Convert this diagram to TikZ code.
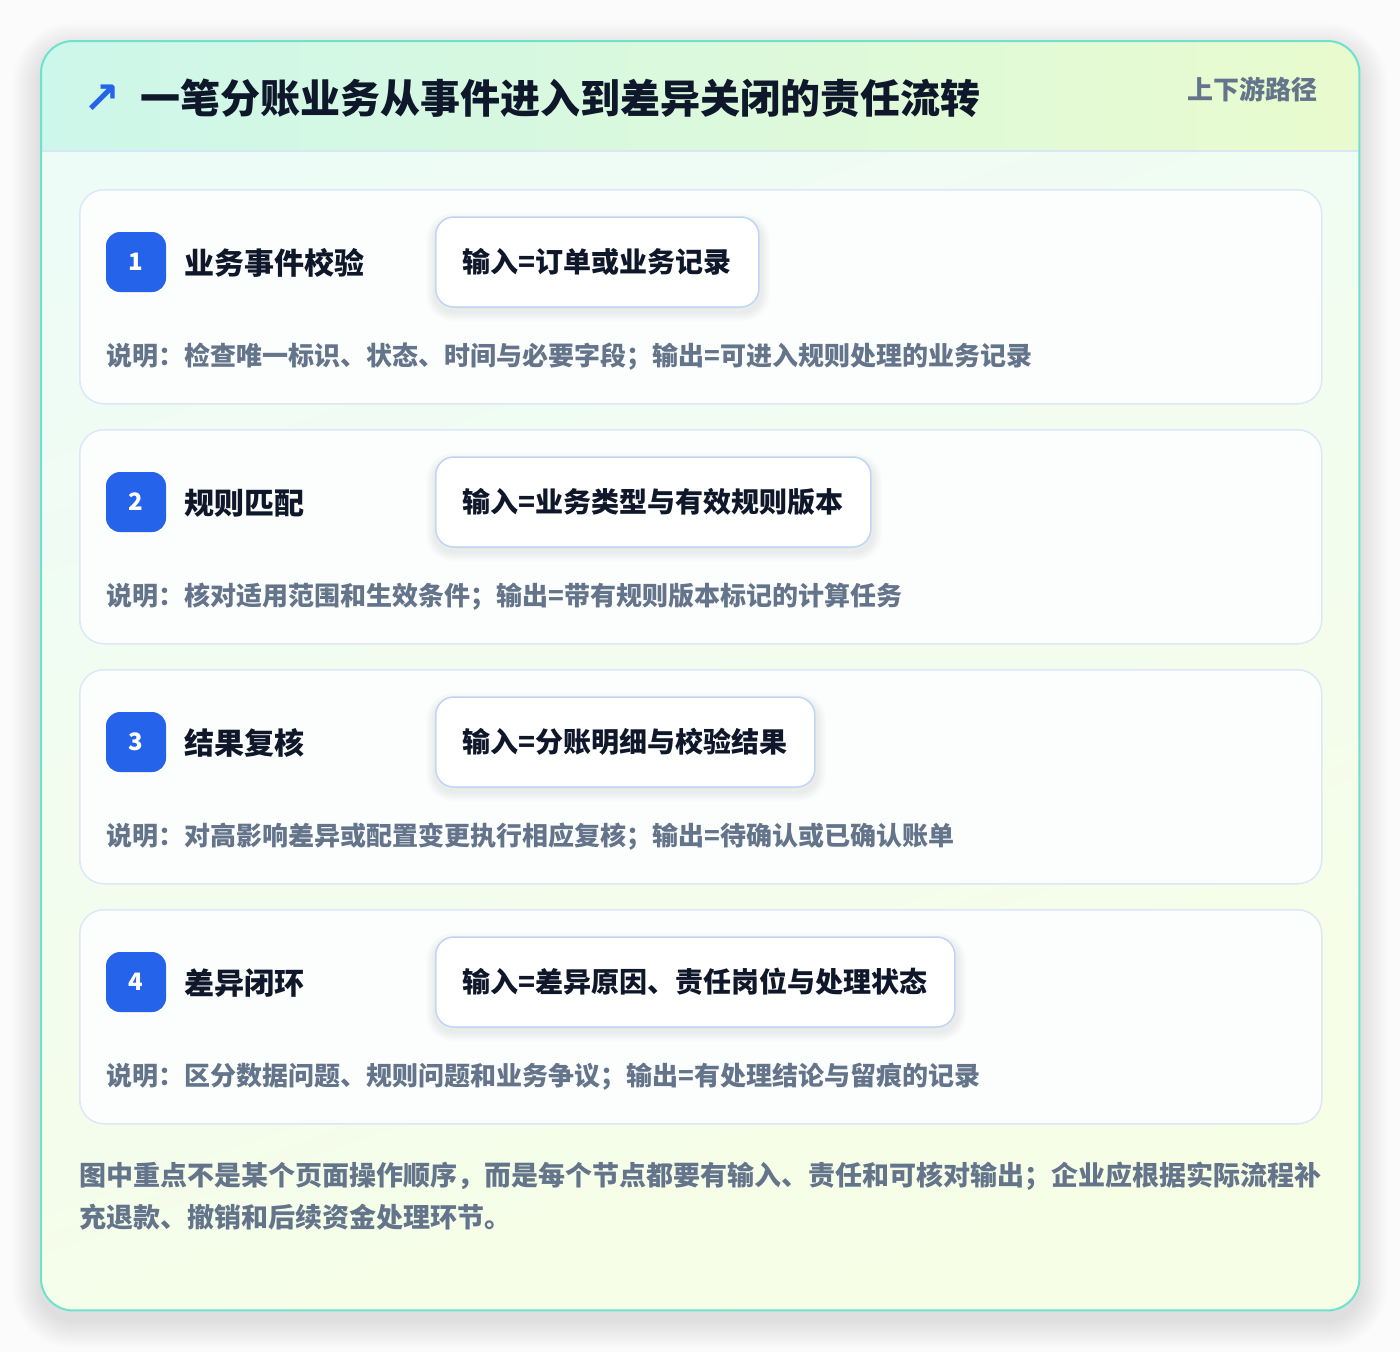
\documentclass[tikz,border=0pt]{standalone}
\usepackage{fontspec}
\setmainfont{Noto Sans CJK SC}
\newfontfamily\symfont{DejaVu Sans}
\definecolor{pagebg}{HTML}{FBFBFB}
\definecolor{cardborder}{HTML}{6EE2CC}
\definecolor{cardtop}{HTML}{EEFCF7}
\definecolor{cardbot}{HTML}{F7FEE6}
\definecolor{headl}{HTML}{CDF7EA}
\definecolor{headr}{HTML}{E9FBCE}
\definecolor{headline}{HTML}{D8E6F6}
\definecolor{stepborder}{HTML}{DCE8F8}
\definecolor{stepfill}{HTML}{FCFEFD}
\definecolor{inborder}{HTML}{BFD5F5}
\definecolor{badgeblue}{HTML}{2563EB}
\definecolor{ink}{HTML}{0F172A}
\definecolor{muted}{HTML}{64748B}
\definecolor{shadowc}{HTML}{1E293B}
\tikzset{
  maincard/.style={rectangle, rounded corners=32pt, minimum width=1318pt, minimum height=1269pt,
    anchor=north west, inner sep=0pt, top color=cardtop, bottom color=cardbot, shading angle=20},
  stepcard/.style={rectangle, rounded corners=24pt, minimum width=1242pt, minimum height=214pt,
    anchor=north west, inner sep=0pt, draw=stepborder, line width=1.5pt, fill=stepfill},
  badgebox/.style={rectangle, rounded corners=14pt, minimum width=60pt, minimum height=60pt,
    inner sep=0pt, fill=badgeblue, text=white, font=\fontsize{24}{28}\selectfont\bfseries},
  steptitle/.style={anchor=west, inner sep=0pt, text=ink, font=\fontsize{30}{36}\selectfont\bfseries},
  inbox/.style={rectangle, rounded corners=18pt, minimum height=90pt, inner xsep=27pt, inner ysep=0pt,
    anchor=west, draw=inborder, line width=1.5pt, fill=white, text=ink,
    font=\fontsize{28}{34}\selectfont\bfseries},
  desctext/.style={anchor=west, inner sep=0pt, text=muted, font=\fontsize{26}{32}\selectfont\bfseries},
  foottext/.style={anchor=base west, inner sep=0pt, text=muted, font=\fontsize{27}{34}\selectfont\bfseries},
}
\begin{document}
\begin{tikzpicture}[x=1pt,y=-1pt]
\useasboundingbox (0,0) rectangle (1400,1352);
\fill[pagebg] (0,0) rectangle (1400,1352);
% soft shadow of the main card
\foreach \k in {1,...,14}{
  \fill[shadowc, opacity=0.009, rounded corners=32pt+2*\k pt]
    (41-2*\k,41-2*\k+10) rectangle (1359+2*\k,1310+2*\k+10);
}
\node[maincard] (card) at (41,41) {};
\begin{scope}
  \clip[rounded corners=32pt] (41,41) rectangle (1359,1310);
  \shade[left color=headl, right color=headr] (41,41) rectangle (1359,151);
  \draw[headline, line width=1.5pt] (41,151) -- (1359,151);
\end{scope}
\draw[cardborder, line width=2pt, rounded corners=32pt] (card.north west) rectangle (card.south east);

\node[anchor=center, inner sep=0pt, font=\symfont\fontsize{44}{48}\selectfont\bfseries, text=badgeblue] (icon) at (102,99) {↗};
\node[anchor=west, inner sep=0pt, text=ink, font=\fontsize{40}{48}\selectfont\bfseries] (title) at (140,98) {一笔分账业务从事件进入到差异关闭的责任流转};
\node[anchor=east, inner sep=0pt, text=muted, font=\fontsize{26}{32}\selectfont\bfseries] (tag) at (1318,89) {上下游路径};

\foreach \i/\ttl/\inp/\w/\desc in {
  1/业务事件校验/输入=订单或业务记录/326/说明：检查唯一标识、状态、时间与必要字段；输出=可进入规则处理的业务记录,
  2/规则匹配/输入=业务类型与有效规则版本/438/说明：核对适用范围和生效条件；输出=带有规则版本标记的计算任务,
  3/结果复核/输入=分账明细与校验结果/382/说明：对高影响差异或配置变更执行相应复核；输出=待确认或已确认账单,
  4/差异闭环/输入=差异原因、责任岗位与处理状态/522/说明：区分数据问题、规则问题和业务争议；输出=有处理结论与留痕的记录}{
  \pgfmathsetmacro{\top}{189+240*(\i-1)}
  \node[stepcard] (step\i) at (79,\top) {};
  \node[badgebox] (badge\i) at (136,\top+73) {\i};
  \node[steptitle] (stitle\i) at (184,\top+74) {\ttl};
  \foreach \k in {1,...,6}{
    \fill[shadowc, opacity=0.012, rounded corners=18pt+1.5*\k pt]
      (435-1.5*\k,\top+28-1.5*\k+5) rectangle (435+\w+1.5*\k,\top+118+1.5*\k+5);
  }
  \node[inbox] (input\i) at (435,\top+73) {\inp};
  \node[desctext] (desc\i) at (106,\top+168) {\desc};
}

\node[foottext] (footA) at (79,1185) {图中重点不是某个页面操作顺序，而是每个节点都要有输入、责任和可核对输出；企业应根据实际流程补};
\node[foottext] (footB) at (79,1227) {充退款、撤销和后续资金处理环节。};
\end{tikzpicture}
\end{document}
